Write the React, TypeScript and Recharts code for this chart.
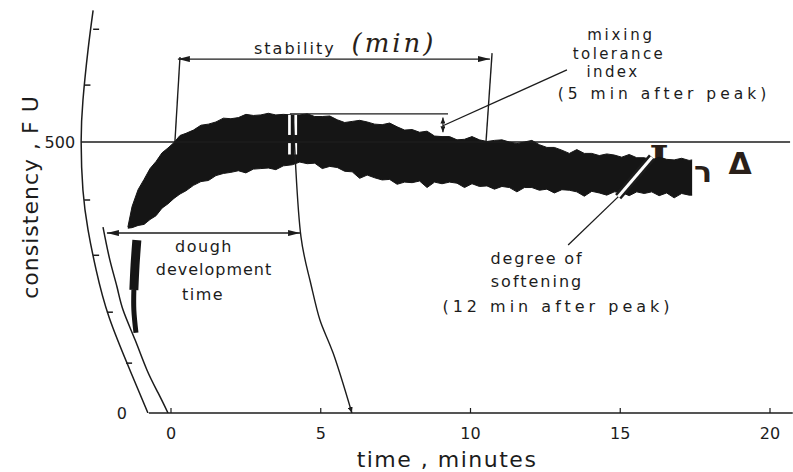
import React from 'react';
import { ComposedChart, XAxis, YAxis, Area, Line, ReferenceLine, ReferenceArea, Scatter } from 'recharts';

// ---- farinogram band (time in minutes, consistency in FU) ----
const bandTime = [-1.44, -1.3, -1.1, -0.9, -0.7, -0.5, -0.3, -0.1, 0.1, 0.3, 0.5, 0.75, 1.0, 1.25, 1.5, 1.75, 2.0, 2.25, 2.5, 2.75, 3.0, 3.25, 3.5, 3.75, 4.05,
  4.3, 4.55, 4.8, 5.05, 5.3, 5.55, 5.8, 6.05, 6.3, 6.55, 6.8, 7.05, 7.3, 7.55, 7.8, 8.05, 8.3, 8.55, 8.8, 9.05, 9.3, 9.55, 9.8, 10.05, 10.3, 10.55, 10.8,
  11.05, 11.3, 11.55, 11.8, 12.05, 12.3, 12.55, 12.8, 13.05, 13.3, 13.55, 13.8, 14.05, 14.3, 14.55, 14.8, 15.05, 15.3, 15.55, 15.8, 16.05, 16.3, 16.55,
  16.8, 17.05, 17.3, 17.4];
const bandHigh = [343, 381, 412, 431, 451, 464, 480, 489, 499, 512, 516, 522, 531, 533, 537, 544, 543, 545, 551, 549, 550, 553, 550, 551, 550,
  550, 552, 547, 547, 548, 541, 536, 538, 540, 537, 533, 532, 535, 528, 522, 523, 518, 520, 511, 510, 510, 504, 505, 510, 504, 501, 503,
  504, 500, 497, 500, 503, 495, 490, 490, 485, 479, 486, 479, 479, 475, 478, 476, 472, 477, 471, 471, 467, 472, 468,
  467, 470, 466, 467];
const bandLow = [341, 342, 346, 348, 357, 364, 378, 386, 396, 404, 410, 420, 427, 429, 438, 442, 444, 447, 443, 450, 451, 452, 449, 456, 458,
  463, 460, 461, 451, 455, 453, 446, 445, 433, 439, 434, 430, 431, 422, 426, 425, 428, 416, 426, 423, 426, 424, 416, 423, 418, 419, 413,
  418, 416, 408, 416, 416, 411, 413, 406, 412, 411, 408, 400, 409, 406, 402, 408, 407, 401, 408, 405, 408, 401, 406,
  397, 405, 402, 402];

// initial trace streak
const streakTime = [-1.14, -1.2, -1.24];
const streakFU = [319, 273, 227];
const streakTailTime = [-1.24, -1.24, -1.17];
const streakTailFU = [227, 190, 148];

// curved (pen-arc) lines
const outerArcTime = [-2.6, -2.77, -2.94, -3.0, -2.94, -2.77, -2.5, -2.07, -1.37, -0.77];
const outerArcFU = [743, 670, 577, 500, 411, 338, 264, 177, 79, 0];
const zeroArcTime = [-2.27, -2.04, -1.8, -1.6, -1.2, -0.8, -0.43, -0.1];
const zeroArcFU = [343, 282, 232, 190, 135, 79, 37, 0];
const peakArcTime = [4.07, 4.17, 4.34, 4.64, 4.97, 5.41, 6.04];
const peakArcFU = [550, 448, 325, 245, 172, 111, 0];

// small tick marks on the curved consistency axis
const yMarkTime = [-2.6, -2.89, -2.9, -2.6, -2.14, -1.5];
const yMarkFU = [708, 605, 393, 291, 186, 92];

const xTicks = [0, 5, 10, 15, 20];

// annotation geometry (minutes, FU)
const stabilityStart = 0.23, stabilityEnd = 10.65, stabilityLevel = 653;
const ddtStart = -2.14, ddtEnd = 4.31, ddtLevel = 332;
const peakLevel = 552, mtiTime = 9.08;

const INK = '#1c1c1c';
const HAND = '#2a1f19';
const FONT = '"DejaVu Sans", sans-serif';

const band = bandTime.map((t, i) => ({ t, range: [bandLow[i], bandHigh[i]] }));
const pts = (ts: number[], fs: number[]) => ts.map((t, i) => ({ t, fu: fs[i] }));

const txt = { fontFamily: FONT, fontSize: 16, fill: INK } as const;

export default function App() {
  return (
    <div style={{ position: 'absolute', left: 0, top: 0, width: 793, height: 472, background: '#fff' }}>
      <ComposedChart width={793} height={472} margin={{ top: 5, right: 0, bottom: 0, left: 0 }}>
        <defs>
          <marker id="ah" viewBox="0 0 12 6" refX="12" refY="3" markerWidth="12" markerHeight="6" markerUnits="userSpaceOnUse" orient="auto-start-reverse">
            <path d="M0,0 L12,3 L0,6 z" fill={INK} />
          </marker>
          <marker id="ahs" viewBox="0 0 6 5" refX="6" refY="2.5" markerWidth="6" markerHeight="5" markerUnits="userSpaceOnUse" orient="auto-start-reverse">
            <path d="M0,0 L6,2.5 L0,5 z" fill={INK} />
          </marker>
        </defs>
        <XAxis dataKey="t" type="number" domain={[-5.7095, 20.768]} allowDataOverflow ticks={xTicks} height={59}
          axisLine={false} tickSize={-5} tickMargin={20} tickLine={{ stroke: INK, strokeWidth: 1.2 }}
          tick={{ fontSize: 16, fill: INK, fontFamily: FONT }} />
        <YAxis type="number" domain={[0, 752.8]} allowDataOverflow hide />

        {/* 500 FU line and time base line */}
        <ReferenceLine segment={[{ x: -3.0, y: 500 }, { x: 20.67, y: 500 }]} stroke={INK} strokeWidth={1.4}
          label={{ value: '500', position: 'left', offset: 6, fill: INK, fontSize: 16, fontFamily: FONT }} />
        <ReferenceLine segment={[{ x: -0.74, y: 0 }, { x: 20.76, y: 0 }]} stroke={INK} strokeWidth={1.6}
          label={{ value: '0', position: 'left', offset: 22, fill: INK, fontSize: 16, fontFamily: FONT }} />

        <Area data={band} dataKey="range" type="linear" stroke="#151515" strokeWidth={1} fill="#151515" fillOpacity={1} isAnimationActive={false} dot={false} activeDot={false} />
        <Line data={pts(streakTime, streakFU)} dataKey="fu" type="natural" stroke="#151515" strokeWidth={9} dot={false} isAnimationActive={false} />
        <Line data={pts(streakTailTime, streakTailFU)} dataKey="fu" type="natural" stroke="#151515" strokeWidth={5} dot={false} isAnimationActive={false} />

        {/* gaps in band at the peak */}
        <ReferenceArea x1={3.91} x2={4.0} y1={513} y2={550} fill="#fff" fillOpacity={1} stroke="none" />
        <ReferenceArea x1={4.12} x2={4.21} y1={513} y2={550} fill="#fff" fillOpacity={1} stroke="none" />
        <ReferenceArea x1={3.91} x2={4.0} y1={477} y2={498} fill="#fff" fillOpacity={1} stroke="none" />
        <ReferenceArea x1={4.12} x2={4.21} y1={477} y2={498} fill="#fff" fillOpacity={1} stroke="none" />

        <Line data={pts(outerArcTime, outerArcFU)} dataKey="fu" type="natural" stroke={INK} strokeWidth={1.5} dot={false} isAnimationActive={false} />
        <Line data={pts(zeroArcTime, zeroArcFU)} dataKey="fu" type="natural" stroke={INK} strokeWidth={1.5} dot={false} isAnimationActive={false} />
        <Line data={pts(peakArcTime, peakArcFU)} dataKey="fu" type="natural" stroke={INK} strokeWidth={1.4} dot={false} markerEnd="url(#ahs)" isAnimationActive={false} />
        <Scatter data={pts(yMarkTime, yMarkFU)} dataKey="fu" isAnimationActive={false}
          shape={(p: any) => <line x1={p.cx} y1={p.cy} x2={p.cx + 6} y2={p.cy} stroke={INK} strokeWidth={1.5} />} />

        {/* stability */}
        <ReferenceLine segment={[{ x: 0.3, y: 657 }, { x: 0.13, y: 500 }]} stroke={INK} strokeWidth={1.4} />
        <ReferenceLine segment={[{ x: 10.72, y: 664 }, { x: 10.52, y: 502 }]} stroke={INK} strokeWidth={1.4} />
        <ReferenceLine segment={[{ x: stabilityStart, y: stabilityLevel }, { x: stabilityEnd, y: stabilityLevel }]} stroke={INK} strokeWidth={1.4}
          markerStart="url(#ah)" markerEnd="url(#ah)" />

        {/* dough development time */}
        <ReferenceLine segment={[{ x: ddtStart, y: ddtLevel }, { x: ddtEnd, y: ddtLevel }]} stroke={INK} strokeWidth={1.4}
          markerStart="url(#ah)" markerEnd="url(#ah)" />

        {/* mixing tolerance index */}
        <ReferenceLine segment={[{ x: 3.97, y: peakLevel }, { x: 9.25, y: peakLevel }]} stroke={INK} strokeWidth={1.4} />
        <ReferenceLine segment={[{ x: mtiTime, y: 545 }, { x: mtiTime, y: 518 }]} stroke={INK} strokeWidth={1.2}
          markerStart="url(#ahs)" markerEnd="url(#ahs)" />
        <ReferenceLine segment={[{ x: mtiTime, y: 530 }, { x: 13.22, y: 633 }]} stroke={INK} strokeWidth={1.3} />

        {/* degree of softening */}
        <ReferenceLine segment={[{ x: 13.26, y: 310 }, { x: 14.99, y: 402 }]} stroke={INK} strokeWidth={1.3} />
        <ReferenceLine segment={[{ x: 14.93, y: 399 }, { x: 16.06, y: 472 }]} stroke={INK} strokeWidth={8} />
        <ReferenceLine segment={[{ x: 14.93, y: 399 }, { x: 16.06, y: 472 }]} stroke="#fff" strokeWidth={3} />

        {/* texts */}
        <text x={30} y={197} transform="rotate(-90 30 197)" textAnchor="middle" dominantBaseline="central" style={{ fontFamily: FONT, fontSize: 22, fill: INK, letterSpacing: 1 }}>consistency , F U</text>
        <text x={447} y={467} textAnchor="middle" style={{ fontFamily: FONT, fontSize: 22, fill: INK, letterSpacing: 1.5 }}>time , minutes</text>

        <text x={254} y={54} style={{ ...txt, letterSpacing: 2 }}>stability</text>
        <text x={394} y={52} textAnchor="middle" style={{ fontFamily: '"DejaVu Serif", serif', fontStyle: 'italic', fontSize: 26, fill: HAND, letterSpacing: 3 }}>(min)</text>

        <text x={621} y={40} textAnchor="middle" style={{ ...txt, fontSize: 15, letterSpacing: 2.8 }}>mixing</text>
        <text x={619} y={59} textAnchor="middle" style={{ ...txt, fontSize: 15, letterSpacing: 2.4 }}>tolerance</text>
        <text x={613} y={77} textAnchor="middle" style={{ ...txt, fontSize: 15, letterSpacing: 2.4 }}>index</text>
        <text x={664} y={99} textAnchor="middle" style={{ ...txt, fontSize: 15.5, letterSpacing: 4 }}>(5 min after peak)</text>

        <text x={204} y={252} textAnchor="middle" style={{ ...txt, letterSpacing: 1.5 }}>dough</text>
        <text x={214} y={275} textAnchor="middle" style={{ ...txt, letterSpacing: 1 }}>development</text>
        <text x={203} y={300} textAnchor="middle" style={{ ...txt, letterSpacing: 1.5 }}>time</text>

        <text x={537} y={264} textAnchor="middle" style={{ ...txt, letterSpacing: 1.8 }}>degree of</text>
        <text x={537} y={287} textAnchor="middle" style={{ ...txt, letterSpacing: 2 }}>softening</text>
        <text x={558} y={312} textAnchor="middle" style={{ ...txt, letterSpacing: 4 }}>(12 min after peak)</text>

        <text x={659} y={176} textAnchor="middle" style={{ fontFamily: '"DejaVu Serif", serif', fontWeight: 'bold', fontSize: 42, fill: HAND }}>I</text>
        <text x={703} y={182} textAnchor="middle" style={{ fontFamily: FONT, fontWeight: 'bold', fontSize: 30, fill: HAND }}>ר</text>
        <text x={740} y={174} textAnchor="middle" style={{ fontFamily: FONT, fontWeight: 'bold', fontSize: 30, fill: HAND }}>Δ</text>
      </ComposedChart>
    </div>
  );
}
